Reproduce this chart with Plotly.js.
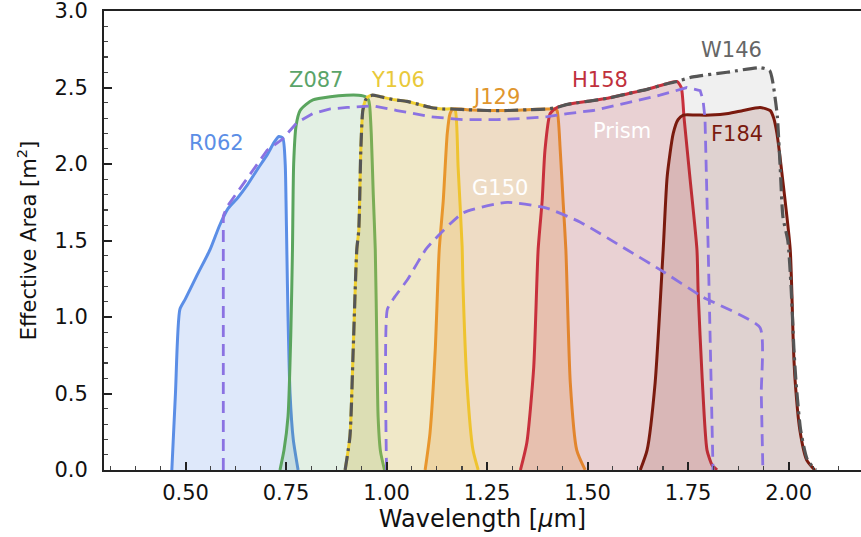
<!DOCTYPE html>
<html>
<head>
<meta charset="utf-8">
<script src="https://cdn.plot.ly/plotly-3.0.1.min.js"></script>
<style>html,body{margin:0;padding:0;background:#fff;}#chart{width:861px;height:537px;}</style>
</head>
<body>
<div id="chart"></div>
<script>
// ---- Data (wavelength in micron, effective area in m^2) ----
const R062_x = [0.466, 0.475, 0.486, 0.50, 0.53, 0.561, 0.585, 0.606, 0.63, 0.653, 0.68, 0.703, 0.72, 0.732, 0.742, 0.748, 0.750, 0.752, 0.755, 0.76, 0.768, 0.78];
const R062_y = [0, 0.5, 1.05, 1.12, 1.28, 1.44, 1.6, 1.71, 1.78, 1.86, 1.97, 2.06, 2.14, 2.18, 2.17, 2.0, 1.76, 1.44, 1.0, 0.5, 0.2, 0];

const Z087_x = [0.735, 0.745, 0.755, 0.762, 0.766, 0.769, 0.775, 0.785, 0.80, 0.817, 0.86, 0.90, 0.93, 0.948, 0.955, 0.958, 0.962, 0.967, 0.972, 0.976, 0.979, 0.985, 0.995];
const Z087_y = [0, 0.13, 0.35, 0.9, 1.44, 2.0, 2.25, 2.35, 2.39, 2.42, 2.44, 2.45, 2.45, 2.44, 2.42, 2.38, 2.2, 1.8, 1.44, 0.8, 0.35, 0.12, 0];

const Y106_x = [0.897, 0.909, 0.917, 0.926, 0.931, 0.936, 0.941, 0.948, 0.954, 0.965, 0.985, 1.02, 1.05, 1.08, 1.11, 1.14, 1.165, 1.171, 1.178, 1.188, 1.19, 1.20, 1.215, 1.228];
const Y106_y = [0, 0.22, 0.78, 1.44, 1.57, 2.09, 2.35, 2.42, 2.44, 2.45, 2.44, 2.42, 2.41, 2.39, 2.37, 2.36, 2.36, 2.35, 1.98, 1.46, 1.22, 0.57, 0.13, 0];

const J129_x = [1.096, 1.108, 1.121, 1.131, 1.141, 1.151, 1.158, 1.165, 1.2, 1.25, 1.3, 1.35, 1.4, 1.418, 1.424, 1.432, 1.439, 1.446, 1.457, 1.473, 1.494];
const J129_y = [0, 0.24, 0.78, 1.44, 1.76, 2.2, 2.33, 2.36, 2.355, 2.35, 2.35, 2.355, 2.36, 2.36, 2.35, 2.09, 1.76, 1.44, 0.57, 0.13, 0];

const H158_x = [1.333, 1.349, 1.366, 1.377, 1.387, 1.394, 1.407, 1.424, 1.45, 1.5, 1.55, 1.6, 1.65, 1.69, 1.722, 1.733, 1.74, 1.755, 1.772, 1.775, 1.785, 1.797, 1.81, 1.822];
const H158_y = [0, 0.18, 0.67, 1.44, 1.76, 2.09, 2.33, 2.37, 2.39, 2.41, 2.43, 2.46, 2.49, 2.52, 2.54, 2.50, 2.3, 1.9, 1.44, 1.16, 0.6, 0.13, 0.03, 0];

const F184_x = [1.631, 1.648, 1.668, 1.688, 1.698, 1.713, 1.725, 1.738, 1.77, 1.805, 1.85, 1.887, 1.929, 1.954, 1.963, 1.971, 1.986, 2.004, 2.012, 2.016, 2.028, 2.045, 2.065];
const F184_y = [0, 0.13, 0.57, 1.44, 1.92, 2.2, 2.29, 2.32, 2.32, 2.32, 2.33, 2.35, 2.37, 2.35, 2.3, 2.2, 1.88, 1.44, 0.8, 0.59, 0.26, 0.065, 0];

const W146_x = [0.897, 0.909, 0.917, 0.926, 0.931, 0.936, 0.941, 0.948, 0.954, 0.965, 0.985, 1.02, 1.05, 1.08, 1.11, 1.14, 1.165, 1.2, 1.25, 1.3, 1.35, 1.4, 1.424, 1.45, 1.5, 1.55, 1.6, 1.65, 1.69, 1.722, 1.762, 1.847, 1.929, 1.953, 1.961, 1.968, 1.972, 1.979, 1.986, 1.998, 2.006, 2.013, 2.018, 2.03, 2.047, 2.068];
const W146_y = [0, 0.22, 0.78, 1.44, 1.57, 2.09, 2.35, 2.42, 2.44, 2.45, 2.44, 2.42, 2.41, 2.39, 2.37, 2.36, 2.36, 2.355, 2.35, 2.35, 2.355, 2.36, 2.37, 2.39, 2.41, 2.43, 2.46, 2.49, 2.52, 2.54, 2.57, 2.60, 2.63, 2.61, 2.53, 2.4, 2.31, 1.98, 1.65, 1.5, 1.2, 0.8, 0.59, 0.26, 0.065, 0];

const Prism_x = [0.594, 0.594, 0.603, 0.625, 0.653, 0.68, 0.703, 0.74, 0.777, 0.817, 0.86, 0.902, 0.967, 1.026, 1.108, 1.19, 1.275, 1.35, 1.40, 1.45, 1.514, 1.598, 1.68, 1.747, 1.78, 1.787, 1.792, 1.80, 1.805, 1.812];
const Prism_y = [0, 1.66, 1.72, 1.80, 1.90, 2.0, 2.09, 2.16, 2.27, 2.33, 2.36, 2.37, 2.38, 2.35, 2.31, 2.29, 2.29, 2.30, 2.31, 2.33, 2.35, 2.40, 2.45, 2.50, 2.48, 2.42, 2.3, 1.44, 0.78, 0];

const G150_x = [1.0, 1.002, 1.02, 1.051, 1.10, 1.19, 1.30, 1.40, 1.482, 1.598, 1.68, 1.787, 1.929, 1.932, 1.936];
const G150_y = [0, 1.05, 1.13, 1.24, 1.45, 1.68, 1.75, 1.71, 1.62, 1.44, 1.31, 1.13, 0.93, 0.5, 0];

const xTickVals = [0.50, 0.75, 1.00, 1.25, 1.50, 1.75, 2.00];
const yTickVals = [0.0, 0.5, 1.0, 1.5, 2.0, 2.5, 3.0];

const labels = ["R062", "Z087", "Y106", "J129", "H158", "W146", "Prism", "F184", "G150"];
const labelX = [0.578, 0.825, 1.029, 1.272, 1.531, 1.859, 1.586, 1.872, 1.282];
const labelY = [2.14, 2.55, 2.55, 2.44, 2.55, 2.745, 2.216, 2.196, 1.843];
const labelColor = ["#5b8ee6", "#5aa469", "#e9c93a", "#e0962e", "#c0303c", "#666666", "#ffffff", "#7a1a0e", "#ffffff"];

// ---- Traces ----
function band(x, y, line, fill) {
  return {x: x, y: y, type: 'scatter', mode: 'lines', fill: 'tozeroy', fillcolor: fill,
          line: {color: line, width: 3, shape: 'spline', smoothing: 0.6}, hoverinfo: 'skip'};
}
const traces = [
  {x: W146_x, y: W146_y, type: 'scatter', mode: 'lines', fill: 'tozeroy', fillcolor: 'rgba(0,0,0,0.06)',
   line: {width: 0, shape: 'spline', smoothing: 0.6}, hoverinfo: 'skip'},
  band(R062_x, R062_y, '#5b8ee6', 'rgba(91,142,230,0.20)'),
  band(Z087_x, Z087_y, '#5aa55e', 'rgba(90,165,94,0.17)'),
  band(Y106_x, Y106_y, '#f0d030', 'rgba(240,205,60,0.22)'),
  band(J129_x, J129_y, '#e8962c', 'rgba(232,150,44,0.22)'),
  band(H158_x, H158_y, '#c8303c', 'rgba(200,48,60,0.16)'),
  band(F184_x, F184_y, '#7a1a0e', 'rgba(122,26,14,0.14)'),
  {x: W146_x, y: W146_y, type: 'scatter', mode: 'lines',
   line: {color: '#555555', width: 3.2, dash: '14px,5px,3px,5px', shape: 'spline', smoothing: 0.6}, hoverinfo: 'skip'},
  {x: Prism_x, y: Prism_y, type: 'scatter', mode: 'lines',
   line: {color: '#8b72e2', width: 2.8, dash: '12px,7px'}, hoverinfo: 'skip'},
  {x: G150_x, y: G150_y, type: 'scatter', mode: 'lines',
   line: {color: '#8b72e2', width: 2.8, dash: '12px,7px', shape: 'spline', smoothing: 0.5}, hoverinfo: 'skip'}
];

const annotations = labels.map((t, i) => ({
  x: labelX[i], y: labelY[i], xref: 'x', yref: 'y', text: t, showarrow: false,
  font: {family: 'DejaVu Sans, Arial, sans-serif', size: 21, color: labelColor[i]}
}));

const layout = {
  width: 861, height: 537,
  margin: {l: 104, r: 0, t: 11, b: 67, pad: 0},
  paper_bgcolor: '#ffffff', plot_bgcolor: '#ffffff',
  showlegend: false,
  font: {family: 'DejaVu Sans, Arial, sans-serif', color: '#111111'},
  xaxis: {
    range: [0.2973, 2.180], tickvals: xTickVals, ticktext: xTickVals.map(v => v.toFixed(2)),
    ticks: 'inside', ticklen: 8, tickwidth: 2, tickcolor: '#222',
    minor: {dtick: 0.0625, tick0: 0, ticks: 'inside', ticklen: 4, tickwidth: 1.2, tickcolor: '#444'},
    showline: true, linecolor: '#222', linewidth: 2, mirror: true,
    showgrid: false, zeroline: false,
    tickfont: {size: 21, color: '#111'}, ticklabelstandoff: 3,
    title: {text: 'Wavelength [<i>μ</i>m]', font: {size: 24, color: '#111'}, standoff: 0}
  },
  yaxis: {
    range: [0, 3.0005], tickvals: yTickVals, ticktext: yTickVals.map(v => v.toFixed(1)),
    ticks: 'inside', ticklen: 8, tickwidth: 2, tickcolor: '#222',
    minor: {dtick: 0.1, tick0: 0, ticks: 'inside', ticklen: 4, tickwidth: 1.2, tickcolor: '#444'},
    showline: true, linecolor: '#222', linewidth: 2, mirror: false,
    showgrid: false, zeroline: false, ticklabeloverflow: 'allow',
    tickfont: {size: 21, color: '#111'}, ticklabelstandoff: 10,
    title: {text: 'Effective Area [m<sup>2</sup>]', font: {size: 21, color: '#111'}, standoff: 12}
  },
  annotations: annotations
};

Plotly.newPlot('chart', traces, layout, {staticPlot: true, displayModeBar: false});
</script>
</body>
</html>
